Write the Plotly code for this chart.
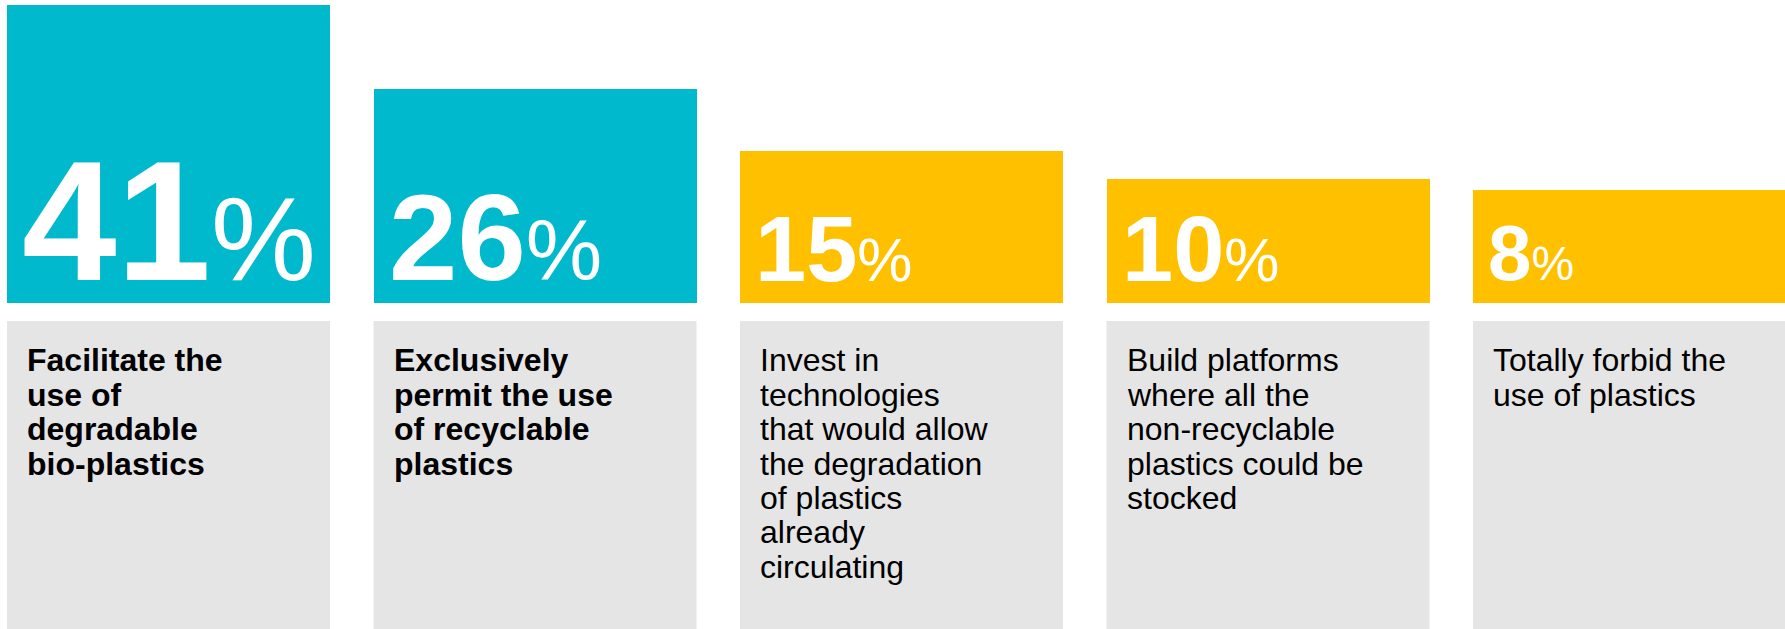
import plotly.graph_objects as go

# ---- data ----
categories = [
    "Facilitate the use of degradable bio-plastics",
    "Exclusively permit the use of recyclable plastics",
    "Invest in technologies that would allow the degradation of plastics already circulating",
    "Build platforms where all the non-recyclable plastics could be stocked",
    "Totally forbid the use of plastics",
]
values = [41, 26, 15, 10, 8]
label_lines = [
    ["Facilitate the", "use of", "degradable", "bio-plastics"],
    ["Exclusively", "permit the use", "of recyclable", "plastics"],
    ["Invest in", "technologies", "that would allow", "the degradation",
     "of plastics", "already", "circulating"],
    ["Build platforms", "where all the", "non-recyclable", "plastics could be", "stocked"],
    ["Totally forbid the", "use of plastics"],
]
bold_label = [True, True, False, False, False]

# ---- style ----
W, H = 1785, 629
TEAL = "#00B9CD"
YELLOW = "#FFC000"
GRAY = "#E5E5E5"
bar_colors = [TEAL, TEAL, YELLOW, YELLOW, YELLOW]
num_sizes = [170, 123, 92, 92, 78]
pct_sizes = [118, 86, 62, 62, 48]
FONT = "Arial, Liberation Sans, sans-serif"

OFFSET = 12.0          # visual baseline offset of the value axis
PX_PER_UNIT = 5.626    # vertical scale
BASE_PX = 303          # pixel row of bar bottoms
GRAY_TOP_PX = 321
PERIOD = 366.5
FIRST_CENTER = 168.5
BAR_W = 323 / PERIOD

y_top = -OFFSET + BASE_PX / PX_PER_UNIT
y_bot = -OFFSET - (H - BASE_PX) / PX_PER_UNIT
x_min = -FIRST_CENTER / PERIOD
x_max = (W - FIRST_CENTER) / PERIOD

xs = list(range(len(categories)))

fig = go.Figure()
fig.add_trace(go.Bar(
    x=xs,
    y=[v + OFFSET for v in values],
    base=-OFFSET,
    width=BAR_W,
    marker=dict(color=bar_colors, line=dict(width=0)),
    hovertext=categories,
    hoverinfo="text",
))

def paper_y(px):
    return 1 - px / H

shapes = []
annotations = []
for i, (v, lines) in enumerate(zip(values, label_lines)):
    left = xs[i] - BAR_W / 2
    shapes.append(dict(
        type="rect", xref="x", yref="paper",
        x0=left, x1=xs[i] + BAR_W / 2,
        y0=0, y1=paper_y(GRAY_TOP_PX),
        fillcolor=GRAY, line=dict(width=0), layer="below",
    ))
    # big number
    fs = max(num_sizes[i], pct_sizes[i])
    baseline = 280
    annotations.append(dict(
        xref="x", yref="paper", x=left, xanchor="left", xshift=13,
        y=paper_y(baseline + 0.212 * fs + 2), yanchor="bottom",
        text=f"<b>{v}</b><span style='font-size:{pct_sizes[i]}px'>%</span>",
        showarrow=False, font=dict(family=FONT, size=num_sizes[i], color="white"),
        align="left",
    ))
    # label lines
    for k, line in enumerate(lines):
        bl = 371.7 + 34.4 * k
        txt = f"<b>{line}</b>" if bold_label[i] else line
        annotations.append(dict(
            xref="x", yref="paper", x=left, xanchor="left", xshift=18,
            y=paper_y(bl + 0.212 * 32 + 2), yanchor="bottom",
            text=txt, showarrow=False,
            font=dict(family=FONT, size=32, color="black"),
            align="left",
        ))

fig.update_layout(
    width=W, height=H,
    margin=dict(l=0, r=0, t=0, b=0),
    paper_bgcolor="white", plot_bgcolor="white",
    showlegend=False,
    xaxis=dict(range=[x_min, x_max], visible=False, fixedrange=True),
    yaxis=dict(range=[y_bot, y_top], visible=False, fixedrange=True),
    shapes=shapes,
    annotations=annotations,
    bargap=0,
)

fig.write_html(
    "out.html",
    config={"displayModeBar": False},
    post_script="document.body.style.margin='0';document.body.style.overflow='hidden';",
)
